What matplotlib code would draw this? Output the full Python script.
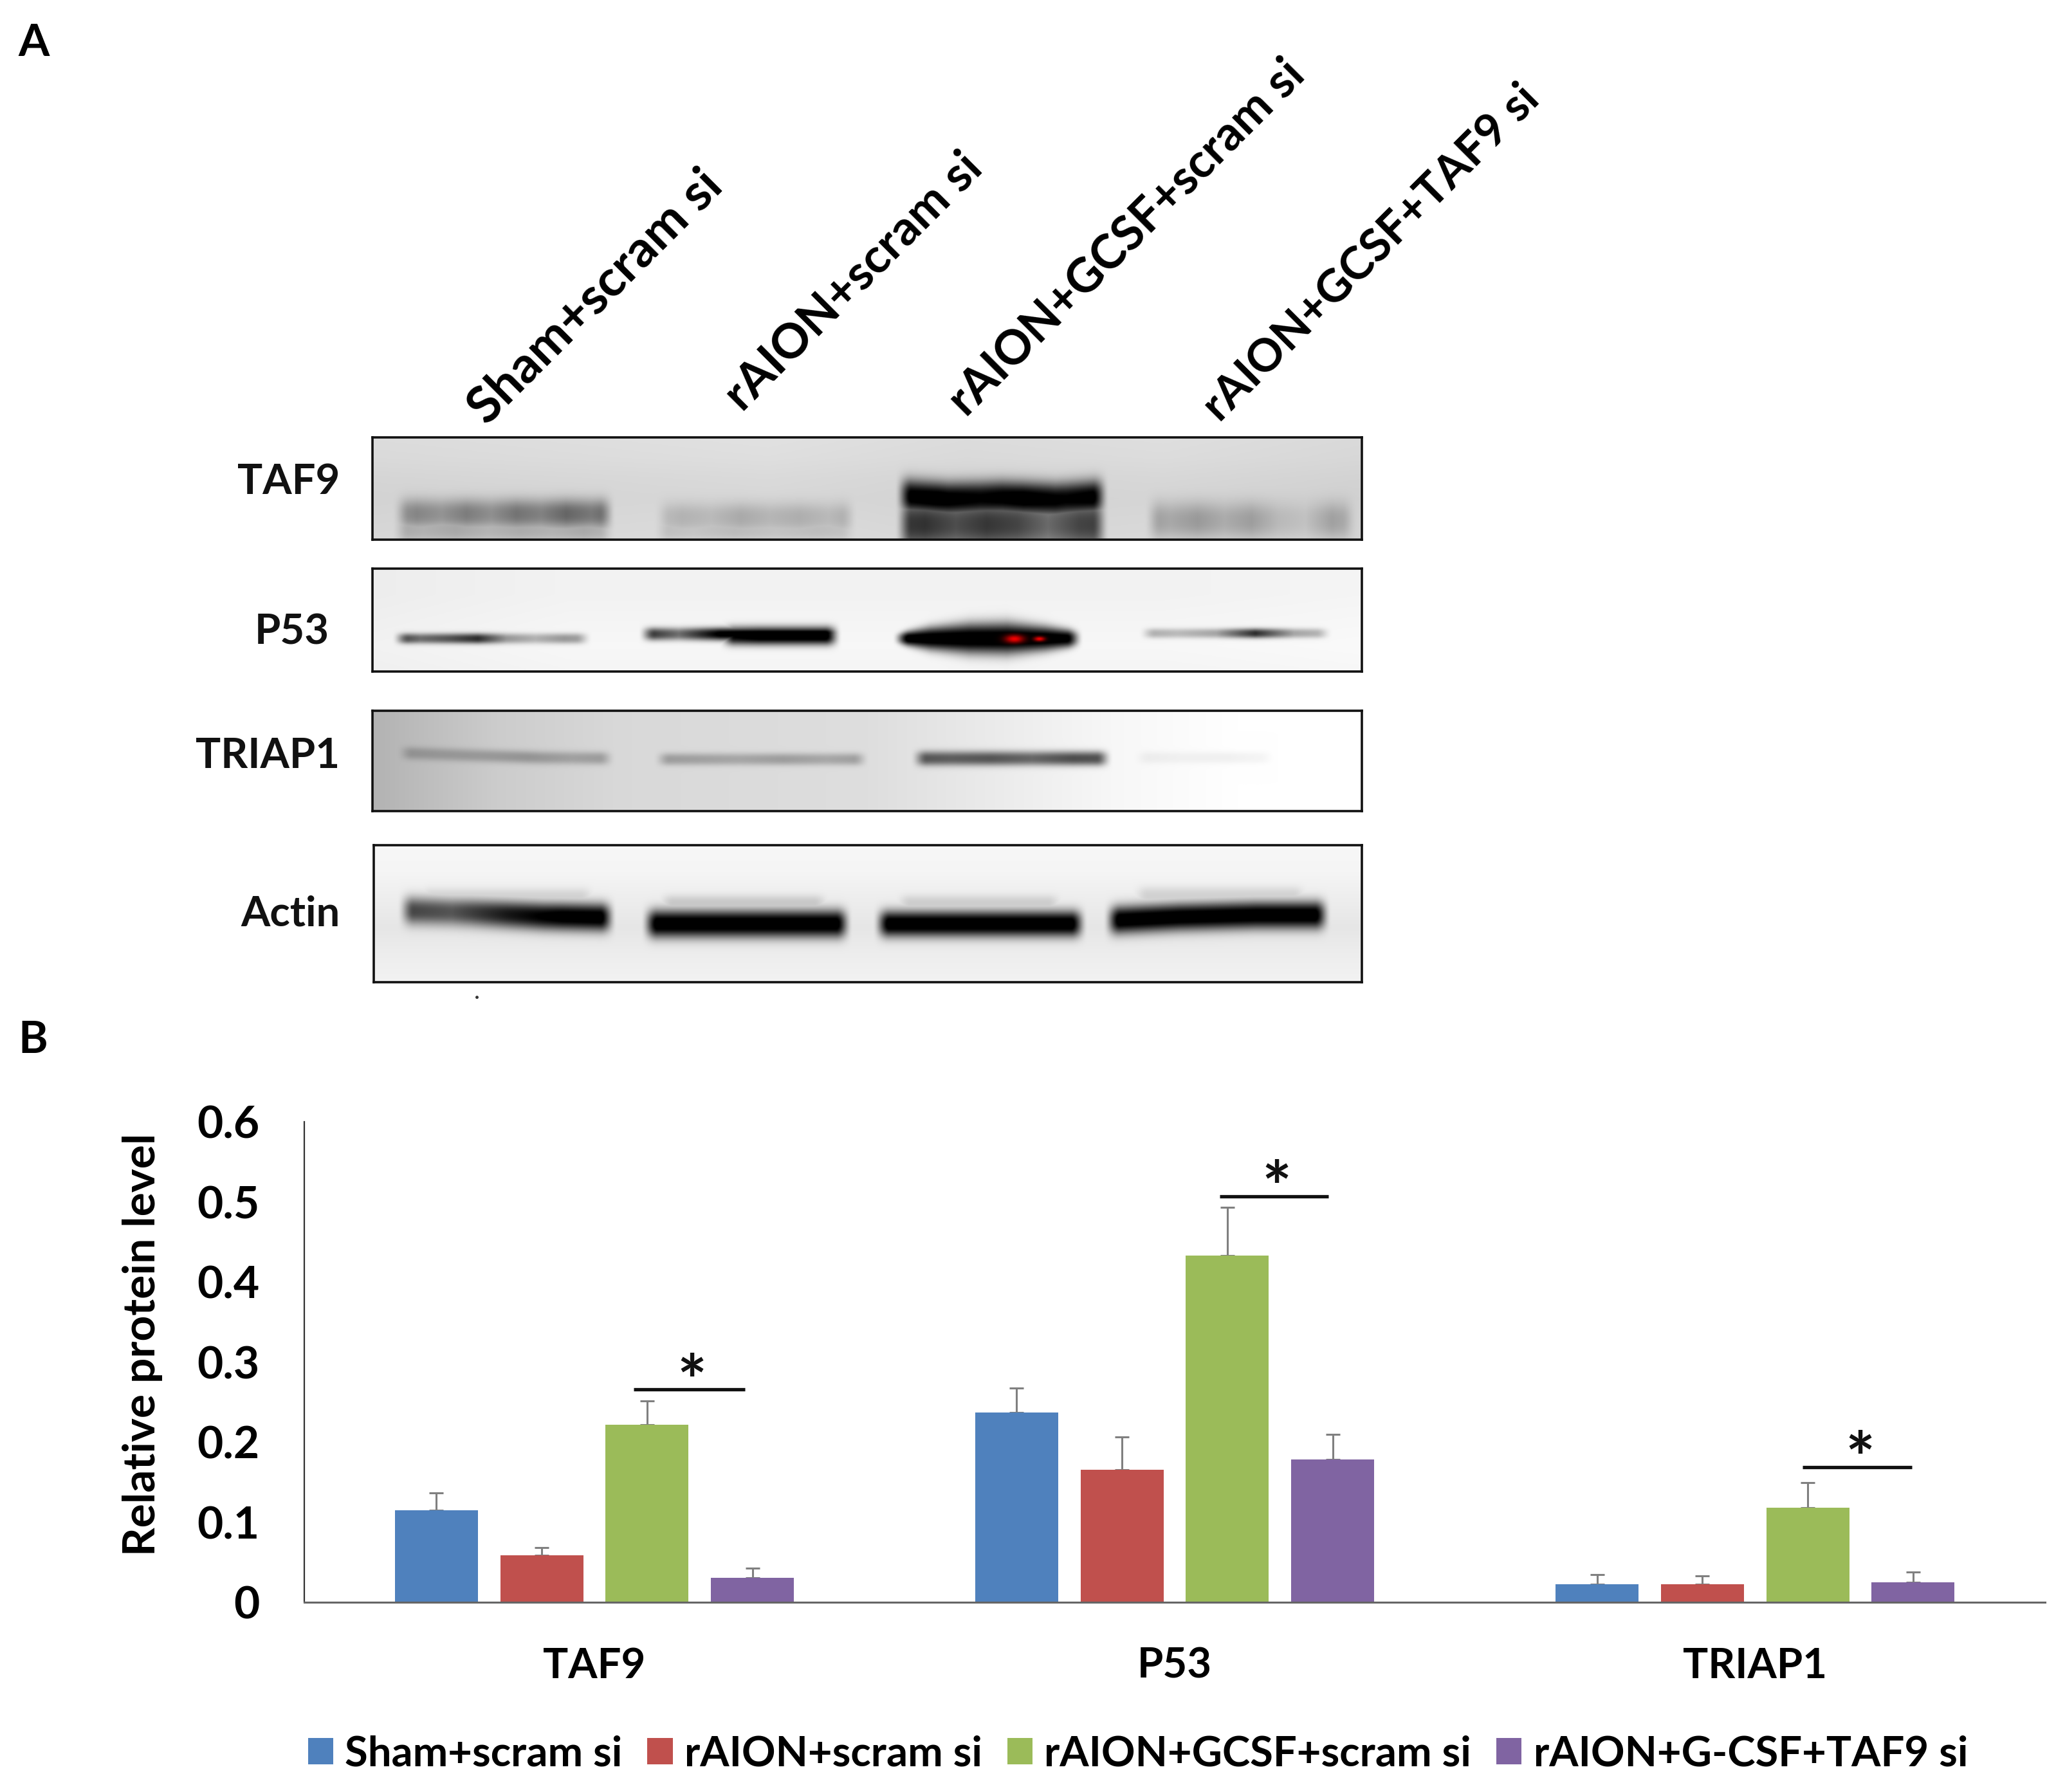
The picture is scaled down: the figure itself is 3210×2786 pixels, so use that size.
import numpy as np
import matplotlib
matplotlib.use('Agg')
import matplotlib.pyplot as plt
from matplotlib.lines import Line2D

plt.rcParams['font.family'] = ['Lato', 'DejaVu Sans']
plt.rcParams['font.weight'] = 'bold'

# ---- Datos de la figura B ----
genes = ['TAF9', 'P53', 'TRIAP1']
groups = ['Sham+scram si', 'rAION+scram si', 'rAION+GCSF+scram si', 'rAION+G-CSF+TAF9 si']
lanes = ['Sham+scram si', 'rAION+scram si', 'rAION+GCSF+scram si', 'rAION+GCSF+TAF9 si']
sham = [0.115, 0.237, 0.023]
raion = [0.059, 0.166, 0.023]
gcsf = [0.222, 0.433, 0.118]
taf9si = [0.031, 0.179, 0.025]
sham_err = [0.022, 0.031, 0.012]
raion_err = [0.010, 0.041, 0.010]
gcsf_err = [0.030, 0.060, 0.032]
taf9si_err = [0.012, 0.031, 0.013]
colors = ['#4F81BD', '#C0504D', '#9BBB59', '#8064A2']
yticks = [0, 0.1, 0.2, 0.3, 0.4, 0.5, 0.6]
ytick_labels = ['0', '0.1', '0.2', '0.3', '0.4', '0.5', '0.6']
sig_left = [0.068, 1.077, 2.082]
sig_right = [0.259, 1.265, 2.270]
sig_y = [0.266, 0.507, 0.169]

# ---- Bandas del western blot: (x0, x1, y, alto, oscuridad a lo largo de la banda) ----
# y y alto pueden ser listas si cambian a lo largo de la banda
taf9_bands = [
    (272, 560, 272, 40, [0.24, 0.34, 0.28, 0.38, 0.30, 0.42, 0.36, 0.48, 0.40, 0.50]),
    (272, 560, 312, 40, [0.20, 0.16, 0.20, 0.15, 0.19, 0.16, 0.20, 0.14]),
    (607, 870, 282, 40, [0.10, 0.16, 0.13, 0.20, 0.15, 0.18, 0.13, 0.20]),
    (607, 870, 315, 32, [0.12, 0.09, 0.13, 0.10, 0.12, 0.09]),
    (917, 1193, [222, 232, 228, 234, 224], 44, [0.95, 1.0, 0.92, 1.0, 0.92, 1.0]),
    (917, 1193, 300, 70, [0.66, 0.70, 0.58, 0.68, 0.62, 0.46, 0.62, 0.66]),
    (1237, 1513, 290, 50, [0.26, 0.20, 0.26, 0.18, 0.24, 0.12, 0.08, 0.22, 0.14]),
]
p53_bands = [
    (272, 530, 602, 14, [0.72, 0.50, 0.60, 0.75, 0.35, 0.25, 0.35, 0.30]),
    (588, 850, 590, 17, [0.80, 0.50, 0.95, 1.0, 1.0, 1.0]),
    (690, 850, 595, 24, [0.85, 1.0, 1.0, 1.0]),
    (914, 1160, 602, [12, 30, 40, 42, 32, 18], [1.0, 1.0, 1.0, 1.0, 1.0, 0.95]),
    (1230, 1480, 588, 13, [0.28, 0.22, 0.30, 0.75, 0.30, 0.22]),
]
triap1_bands = [
    (277, 560, [905, 912, 918, 920], 17, [0.20, 0.20, 0.22, 0.26, 0.22, 0.26]),
    (607, 886, 922, 16, [0.26, 0.24, 0.22, 0.26, 0.22, 0.27]),
    (937, 1198, 920, 19, [0.58, 0.54, 0.58, 0.52, 0.62, 0.60]),
    (1222, 1408, 918, 16, [0.05, 0.04, 0.05, 0.03]),
]
actin_bands = [
    (277, 560, [1322, 1328, 1338, 1342], 36, [0.66, 0.58, 0.82, 0.98, 1.0]),
    (590, 863, 1358, 36, [1.0, 1.0, 1.0, 1.0, 1.0]),
    (888, 1165, 1358, 34, [1.0, 1.0, 1.0, 1.0, 1.0]),
    (1184, 1478, [1350, 1340, 1335, 1335], 36, [1.0, 1.0, 1.0, 1.0, 1.0]),
    (300, 535, 1288, 24, [0.11, 0.11, 0.11]),
    (610, 835, 1304, 22, [0.14, 0.14, 0.14]),
    (915, 1135, 1304, 22, [0.12, 0.12, 0.12]),
    (1220, 1450, 1284, 24, [0.11, 0.11, 0.11]),
]
p53_spots = [(1071, 603, 12), (1103, 603, 7)]

# ---- Utilidades de dibujo ----
FIG_W, FIG_H = 3210, 2786
S = FIG_W / 1568


def box(x0, y0, x1, y1):
    """Convierte un rectángulo en px de la imagen reducida a fracciones de figura."""
    return [x0 * S / FIG_W, 1 - y1 * S / FIG_H, (x1 - x0) * S / FIG_W, (y1 - y0) * S / FIG_H]


def fx(x):
    return x * S / FIG_W


def fy(y):
    return 1 - y * S / FIG_H


def along_band(X, bx0, bx1, v):
    """Valor (fijo o lista) interpolado a lo largo de una banda."""
    v = np.atleast_1d(v)
    if len(v) == 1:
        return np.full_like(X, v[0], dtype=float)
    return np.interp(X, np.linspace(bx0, bx1, len(v)), v)


def blot_panel(pos, ext, bg_x, bg_y, bands, spots=()):
    """Dibuja un panel de blot a partir de sus bandas."""
    x0, x1, y0, y1 = ext
    xs = np.linspace(x0, x1, 900)
    ys = np.linspace(y0, y1, 300)
    X, Y = np.meshgrid(xs, ys)
    light = np.interp(X, np.linspace(x0, x1, len(bg_x)), bg_x) * np.interp(Y, np.linspace(y0, y1, len(bg_y)), bg_y)
    dark = np.zeros_like(X)
    for bx0, bx1, by, bh, d in bands:
        amp = along_band(X, bx0, bx1, d)
        yc = along_band(X, bx0, bx1, by)
        hh = along_band(X, bx0, bx1, bh)
        ex = np.clip((X - bx0) / 22, 0, 1) * np.clip((bx1 - X) / 22, 0, 1)
        ex = ex * ex * (3 - 2 * ex)
        ey = np.exp(-np.abs((Y - yc) / hh) ** 2.4)
        dark = np.maximum(dark, amp * ex * ey)
    grey = light * (1 - np.clip(dark * 1.1, 0, 1))
    rgb = np.dstack([grey, grey, grey])
    for sx, sy, r in spots:
        m = np.exp(-(((X - sx) / r) ** 2 + ((Y - sy) / (r * 0.9)) ** 2))
        rgb[..., 0] = np.maximum(rgb[..., 0], 0.95 * m)
    ax = fig.add_axes(box(*pos))
    ax.imshow(rgb, extent=[x0, x1, y1, y0], aspect='auto', interpolation='bilinear')
    ax.set_xticks([]); ax.set_yticks([])
    for s in ax.spines.values():
        s.set_linewidth(2.6)
        s.set_color('#111111')
    return ax


fig = plt.figure(figsize=(FIG_W / 100, FIG_H / 100), dpi=100)

# ---- Panel A ----
fig.text(fx(14), fy(33), 'A', fontsize=50, va='center', ha='left')
fig.text(fx(14), fy(790), 'B', fontsize=50, va='center', ha='left')

blot_panel((283, 332, 1034, 410), (248, 1516, 66, 340),
           [0.90, 0.91, 0.92, 0.90, 0.91, 0.89], [0.96, 0.95, 0.93, 0.92, 0.93, 0.94], taf9_bands)
blot_panel((283, 432, 1034, 510), (248, 1516, 415, 690),
           [0.95, 0.97, 0.97, 0.97, 0.97, 0.98], [0.98, 0.98, 0.99, 1.0, 0.99], p53_bands, p53_spots)
blot_panel((283, 540, 1034, 616), (248, 1516, 795, 1058),
           [0.70, 0.80, 0.85, 0.86, 0.87, 0.92, 0.97, 1.0, 1.0], [1.0, 1.0, 1.0, 1.0], triap1_bands)
blot_panel((284, 642, 1034, 746), (248, 1516, 1150, 1512),
           [0.97, 0.97, 0.97, 0.97], [1.0, 0.99, 0.96, 0.93, 0.96, 0.98], actin_bands)

# Etiquetas de los carriles
lane_x = [362, 556, 726, 919]
lane_y = [316, 306, 310, 314]
lane_size = [57, 54, 53, 51]
for name, lx, ly, ls in zip(lanes, lane_x, lane_y, lane_size):
    fig.text(fx(lx), fy(ly), name, fontsize=ls, rotation=45, rotation_mode='anchor',
             ha='left', va='center', color='black', fontweight='bold')

# Etiquetas de proteínas
prot_names = ['TAF9', 'P53', 'TRIAP1', 'Actin']
prot_right = [258, 250, 258, 258]
prot_y = [366, 480, 574, 694]
for name, rx, ry in zip(prot_names, prot_right, prot_y):
    fig.text(fx(rx), fy(ry), name, fontsize=47, ha='right', va='center', color='#111111')

# Motita debajo del panel de actina
fig.add_artist(Line2D([fx(362)], [fy(757)], marker='o', ms=2.5, color='#333333', lw=0))

# ---- Panel B ----
ax = fig.add_axes(box(231, 852, 1553, 1217))
x = np.arange(len(genes))
width = 0.143
step = 0.1815
series = [sham, raion, gcsf, taf9si]
errors = [sham_err, raion_err, gcsf_err, taf9si_err]
for i, (vals, errs) in enumerate(zip(series, errors)):
    pos = x + (i - 1.5) * step
    ax.bar(pos, vals, width, color=colors[i], label=groups[i], zorder=2)
    ax.errorbar(pos, vals, yerr=[np.zeros(len(errs)), errs], fmt='none', ecolor='#808080',
                elinewidth=2.2, capsize=8, capthick=2.2, zorder=1)
ax.set_xlim(-0.5, 2.5)
ax.set_ylim(0, 0.6)
ax.set_xticks(x)
ax.set_xticklabels(genes, fontsize=47)
ax.set_yticks(yticks)
ax.set_yticklabels(ytick_labels, fontsize=50)
ax.tick_params(axis='x', length=0, pad=50)
ax.tick_params(axis='y', length=0, pad=50)
ax.set_ylabel('Relative protein level', fontsize=50, fontweight='bold', labelpad=38, y=0.537)
ax.spines['top'].set_visible(False)
ax.spines['right'].set_visible(False)
ax.spines['left'].set_color('#333333')
ax.spines['left'].set_linewidth(1.6)
ax.spines['bottom'].set_color('#666666')
ax.spines['bottom'].set_linewidth(2.2)

# Significancia
for l, r, y in zip(sig_left, sig_right, sig_y):
    ax.plot([l, r], [y, y], color='#111111', lw=3.8, solid_capstyle='butt', clip_on=False)
    ax.text((l + r) / 2 + 0.005, y - 0.034, '*', fontsize=78, ha='center', va='bottom', color='#111111')

fig.legend(loc='center', bbox_to_anchor=(fx(864), fy(1332)), ncol=4, frameon=False, fontsize=47,
           handlelength=0.6, handleheight=0.6, handletextpad=0.28, columnspacing=0.6,
           borderpad=0, borderaxespad=0)

fig.savefig('out.png', dpi=100)
